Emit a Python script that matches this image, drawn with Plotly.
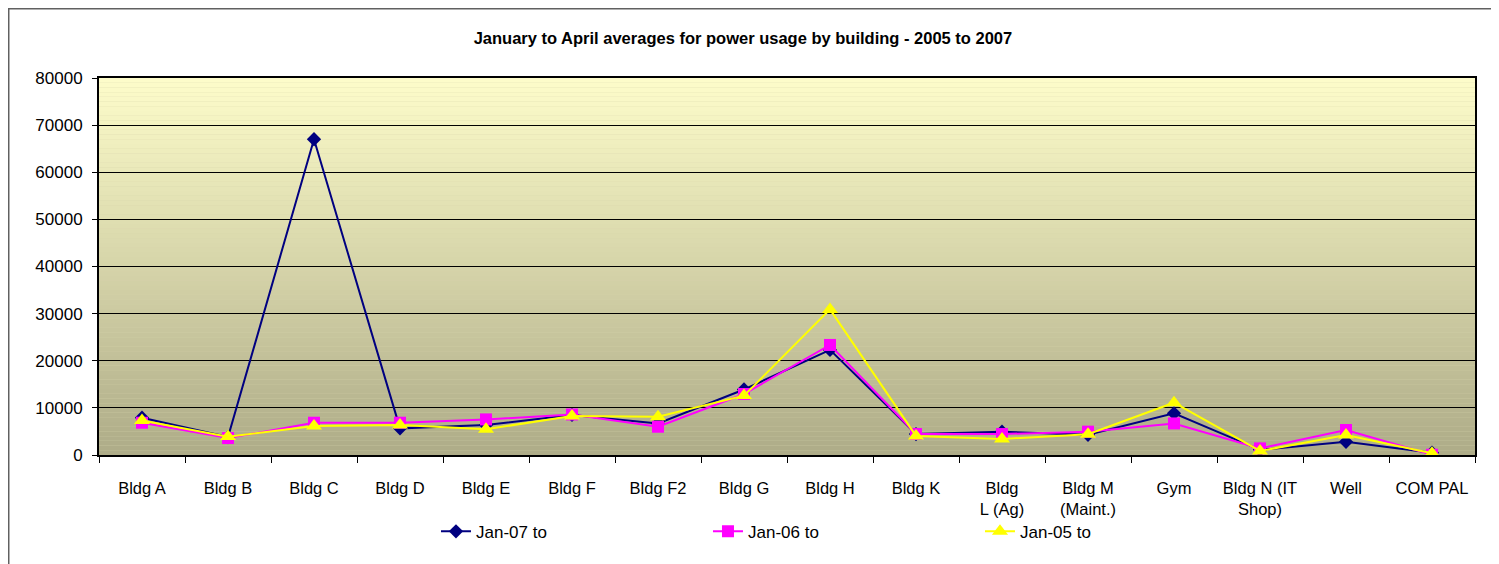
import plotly.graph_objects as go

categories = ["Bldg A", "Bldg B", "Bldg C", "Bldg D", "Bldg E", "Bldg F", "Bldg F2", "Bldg G",
              "Bldg H", "Bldg K", "Bldg<br>L (Ag)", "Bldg M<br>(Maint.)", "Gym",
              "Bldg N (IT<br>Shop)", "Well", "COM PAL"]

jan07 = [7900, 3800, 67000, 5650, 6350, 8500, 6700, 13900, 22300, 4450, 4950, 4300, 8850, 1100, 2800, 500]
jan06 = [6850, 3600, 6850, 6850, 7550, 8600, 6000, 12950, 23350, 4450, 4450, 4950, 6700, 1400, 5300, 50]
jan05 = [7300, 3900, 6150, 6350, 5450, 8300, 8100, 12600, 30900, 4050, 3400, 4400, 11100, 850, 4250, 350]

series_names = ["Jan-07 to", "Jan-06 to", "Jan-05 to"]
series_values = [jan07, jan06, jan05]
series_colors = ["#000080", "#FF00FF", "#FFFF00"]
series_symbols = ["diamond", "square", "triangle-up"]
series_sizes = [11, 12, 14]

y_ticks = [0, 10000, 20000, 30000, 40000, 50000, 60000, 70000, 80000]

fig = go.Figure()
for name, vals, col, sym, sz in zip(series_names, series_values, series_colors, series_symbols, series_sizes):
    fig.add_trace(go.Scatter(
        x=categories, y=vals, name=name, mode="lines+markers",
        line=dict(color=col, width=2),
        marker=dict(symbol=sym, size=sz, color=col, line=dict(width=0)),
    ))

# gradient background bands inside plot area (decoration)
top = (253, 252, 202)
bot = (174, 172, 136)
n = 80
shapes = []
for i in range(n):
    t = i / (n - 1)
    c = tuple(round(top[k] + (bot[k] - top[k]) * t) for k in range(3))
    shapes.append(dict(type="rect", xref="x domain", yref="y domain",
                       x0=0, x1=1, y0=1 - (i + 1) / n, y1=1 - i / n,
                       fillcolor="rgb(%d,%d,%d)" % c, line=dict(width=0), layer="below"))
# outer chart frame
shapes.append(dict(type="rect", xref="paper", yref="paper",
                   x0=-0.0656, x1=1.03, y0=-0.32, y1=1.1837,
                   line=dict(color="#606060", width=1.5), fillcolor="rgba(0,0,0,0)", layer="above"))

fig.update_layout(
    width=1491, height=556,
    margin=dict(l=91, r=24, t=70, b=109),
    paper_bgcolor="white",
    plot_bgcolor="rgb(214,212,170)",
    font=dict(family="Liberation Sans, Arial, sans-serif", size=17, color="black"),
    title=dict(text="<b>January to April averages for power usage by building - 2005 to 2007</b>",
               x=0.468, xanchor="center", y=1 - 30 / 556, yanchor="middle",
               xref="paper", font=dict(size=16.5, color="black")),
    showlegend=True,
    legend=dict(orientation="h", x=0.2449, xanchor="left", y=-0.156, yanchor="top",
                entrywidth=227, entrywidthmode="pixels",
                font=dict(size=17), bgcolor="rgba(0,0,0,0)", traceorder="normal"),
    shapes=shapes,
    xaxis=dict(type="category", range=[-0.5, len(categories) - 0.5], autorange=False,
               showgrid=False, showline=True, linecolor="black", linewidth=2,
               mirror=True, ticks="outside", tickson="boundaries", ticklen=6, tickcolor="black",
               tickfont=dict(size=16.5), tickangle=0, zeroline=False, ticklabelstandoff=17),
    yaxis=dict(range=[0, 80000], tickvals=y_ticks, tickformat="d", showgrid=True,
               gridcolor="black", gridwidth=1, showline=True, linecolor="black", linewidth=2,
               mirror=True, ticks="outside", ticklen=5, tickcolor="black",
               tickfont=dict(size=17), zeroline=False, ticklabelstandoff=6),
)

fig.write_html("out.html")
